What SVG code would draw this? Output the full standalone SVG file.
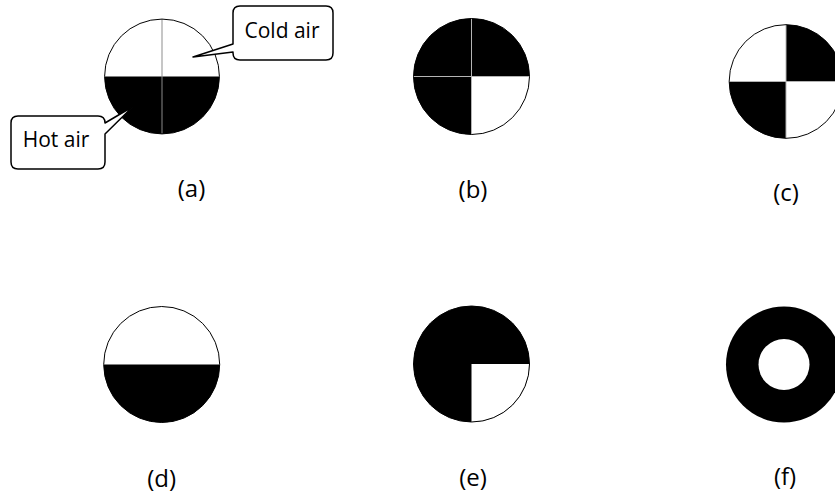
<svg xmlns="http://www.w3.org/2000/svg" width="835" height="495" viewBox="0 0 835 495">
<style>
.bg{fill:#fff}
.w{fill:#fff}
.k{fill:#000}
.rim{fill:none;stroke:#000;stroke-width:1}
.div{stroke:#b4b4b4;stroke-width:1;fill:none}
.div-a{stroke:#8c8c8c;stroke-width:1;fill:none}
.co{fill:#fff;stroke:#000;stroke-width:1.5;stroke-linejoin:round}
.t{font-family:"Open Sans","Liberation Sans",sans-serif;font-size:21px;fill:#000;text-anchor:middle}
.lb{font-family:"Open Sans","Liberation Sans",sans-serif;font-size:24px;fill:#000;text-anchor:middle}
</style>
<defs>
<path id="tl" d="M0,0 H-58 A58,58 0 0 1 0,-58 Z"/>
<path id="tr" d="M0,0 V-58 A58,58 0 0 1 58,0 Z"/>
<path id="br" d="M0,0 H58 A58,58 0 0 1 0,58 Z"/>
<path id="bl" d="M0,0 V58 A58,58 0 0 1 -58,0 Z"/>
</defs>
<rect class="bg" width="835" height="495"/>

<g id="node-a" transform="translate(162,76.5) scale(0.99)">
<circle class="w" r="58"/>
<use href="#bl" class="k"/><use href="#br" class="k"/>
<line class="div-a" x1="0" y1="-58" x2="0" y2="58"/>
<circle class="rim" r="58"/>
</g>
<g id="node-b" transform="translate(471.5,76.5)">
<circle class="w" r="58"/>
<use href="#tl" class="k"/><use href="#tr" class="k"/><use href="#bl" class="k"/>
<line class="div" x1="0" y1="-58" x2="0" y2="58"/>
<line class="div" x1="-58" y1="0" x2="58" y2="0"/>
<circle class="rim" r="58"/>
</g>
<g id="node-c" transform="translate(786,81.5) scale(0.98)">
<circle class="w" r="58"/>
<use href="#tr" class="k"/><use href="#bl" class="k"/>
<line class="div" x1="0" y1="-58" x2="0" y2="58"/>
<line class="div" x1="-58" y1="0" x2="58" y2="0"/>
<circle class="rim" r="58"/>
</g>
<g id="node-d" transform="translate(161.7,364.5)">
<circle class="w" r="58"/>
<path class="k" d="M-58,0 A58,58 0 0 0 58,0 Z"/>
<circle class="rim" r="58"/>
</g>
<g id="node-e" transform="translate(471.5,364)">
<circle class="k" r="58"/>
<use href="#br" class="w"/>
<circle class="rim" r="58"/>
</g>
<g id="node-f" transform="translate(784,364.5)">
<circle class="k" r="58"/>
<circle class="w" r="25.5"/>
</g>

<g id="callout-cold">
<path class="co" d="M240,6 H326 Q333,6 333,13 V53 Q333,60 326,60 H240 Q233,60 233,53 V52 L193,57 L233,44 V13 Q233,6 240,6 Z"/>
<text class="t" x="282" y="38">Cold air</text>
</g>
<g id="callout-hot">
<path class="co" d="M18,116 H98 Q105,116 105,123 L133,106.5 L105,134 V162 Q105,169 98,169 H18 Q11,169 11,162 V123 Q11,116 18,116 Z"/>
<text class="t" x="56" y="147">Hot air</text>
</g>

<g id="labels">
<text class="lb" x="191.5" y="197">(a)</text>
<text class="lb" x="473" y="197.5">(b)</text>
<text class="lb" x="786" y="201">(c)</text>
<text class="lb" x="161.7" y="486.5">(d)</text>
<text class="lb" x="473" y="486">(e)</text>
<text class="lb" x="785" y="484.5">(f)</text>
</g>
</svg>
